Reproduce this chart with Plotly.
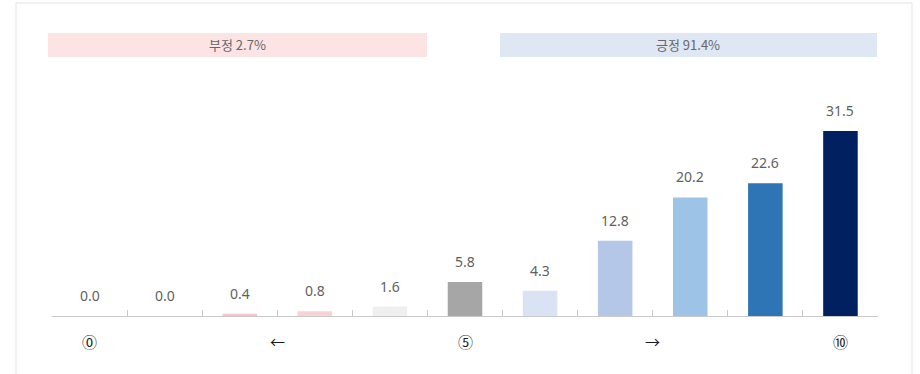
import plotly.graph_objects as go

# Response scale 0..10 and share of respondents (%)
categories = ["0", "1", "2", "3", "4", "5", "6", "7", "8", "9", "10"]
values = [0.0, 0.0, 0.4, 0.8, 1.6, 5.8, 4.3, 12.8, 20.2, 22.6, 31.5]
scale_labels = ["⓪", "←", "⑤", "→", "⑩"]
scale_label_pos = [0, 2.5, 5, 7.5, 10]  # category index on the x axis
group_labels = ["부정 2.7%", "긍정 91.4%"]

bar_colors = ["#f4c7cc", "#f4c7cc", "#f4c7cc", "#f7d3d8", "#efefef", "#a6a6a6",
              "#dae3f3", "#b4c7e7", "#9dc3e6", "#2e75b6", "#002060"]

W, H = 920, 374
L, R, T, B = 52, 42, 33, 58
pw, ph = W - L - R, H - T - B


def px_x(p):
    return (p - L) / pw


def px_y(p):
    return (H - B - p) / ph


fig = go.Figure()
fig.add_trace(go.Bar(
    x=categories, y=values, width=0.46,
    marker=dict(color=bar_colors, line=dict(width=0)),
    hoverinfo="skip",
))

shapes = [
    # outer frame
    dict(type="line", xref="paper", yref="paper", x0=px_x(16), x1=px_x(16), y0=px_y(3), y1=px_y(374),
         line=dict(color="#e3e3e3", width=1)),
    dict(type="line", xref="paper", yref="paper", x0=px_x(912), x1=px_x(912), y0=px_y(3), y1=px_y(374),
         line=dict(color="#e3e3e3", width=1)),
    dict(type="line", xref="paper", yref="paper", x0=px_x(16), x1=px_x(912), y0=px_y(3), y1=px_y(3),
         line=dict(color="#e3e3e3", width=1)),
    # group header bands
    dict(type="rect", xref="paper", yref="paper", x0=px_x(48), x1=px_x(427), y0=px_y(57), y1=px_y(33),
         fillcolor="#fce3e4", line=dict(width=0), layer="below"),
    dict(type="rect", xref="paper", yref="paper", x0=px_x(500), x1=px_x(877), y0=px_y(57), y1=px_y(33),
         fillcolor="#dfe7f4", line=dict(width=0), layer="below"),
]

annotations = [
    dict(x=px_x(237), y=px_y(45), xref="paper", yref="paper", text=group_labels[0], showarrow=False,
         xanchor="center", yanchor="middle",
         font=dict(size=13, color="#666666", family="Malgun Gothic, Noto Sans CJK KR")),
    dict(x=px_x(688), y=px_y(45), xref="paper", yref="paper", text=group_labels[1], showarrow=False,
         xanchor="center", yanchor="middle",
         font=dict(size=13, color="#666666", family="Malgun Gothic, Noto Sans CJK KR")),
]

# value labels above each bar
for c, v in zip(categories, values):
    annotations.append(dict(
        x=c, y=v, xref="x", yref="y", text=f"{v:.1f}", showarrow=False,
        xanchor="center", yanchor="bottom", yshift=9,
        font=dict(size=14, color="#5f5f5f", family="Noto Sans"),
    ))

# scale markers under the axis
for pos, t in zip(scale_label_pos, scale_labels):
    annotations.append(dict(
        x=pos, y=px_y(341), xref="x", yref="paper", text=t, showarrow=False,
        xanchor="center", yanchor="middle",
        font=dict(size=15, color="#1a1a1a", family="Noto Sans CJK KR"),
    ))

fig.update_layout(
    width=W, height=H,
    margin=dict(l=L, r=R, t=T, b=B),
    paper_bgcolor="white", plot_bgcolor="white",
    showlegend=False,
    shapes=shapes, annotations=annotations,
    xaxis=dict(
        type="category", range=[-0.5, 10.5],
        tickson="boundaries", ticks="inside", ticklen=6, tickcolor="#c8c8c8",
        showticklabels=False,
        showline=True, linecolor="#c8c8c8", linewidth=1,
        showgrid=False, zeroline=False,
    ),
    yaxis=dict(range=[0, ph / 5.87], visible=False, showgrid=False, zeroline=False),
)

fig.write_html("out.html")
